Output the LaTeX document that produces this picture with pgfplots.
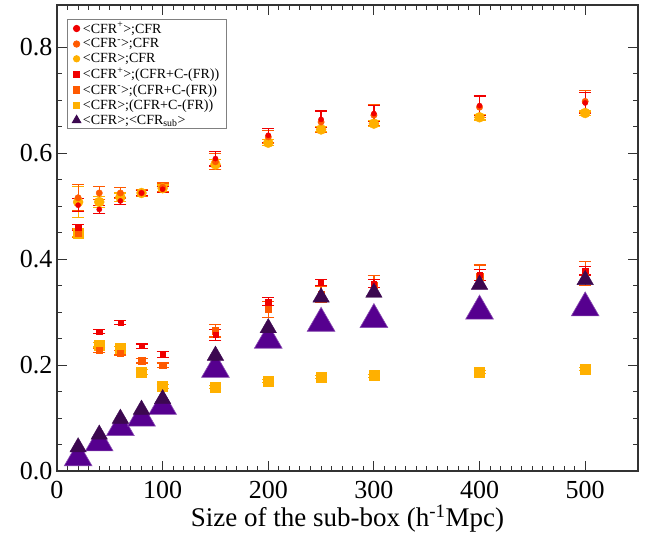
\documentclass[border=0pt]{standalone}
\usepackage{pgfplots}
\pgfplotsset{compat=1.18}
\usepackage{fontspec}
\setmainfont{Liberation Serif}
\definecolor{cred}{HTML}{F00000}
\definecolor{corg}{HTML}{FF5A00}
\definecolor{cyel}{HTML}{FFB000}
\definecolor{cpur}{HTML}{56008F}
\definecolor{cdark}{HTML}{3C0850}
\definecolor{axc}{HTML}{333333}
\pgfplotsset{eb/.style={error bars/y dir=both, error bars/y explicit,
  error bars/error bar style={line width=1.2pt, draw=#1},
  error bars/error mark options={rotate=90, mark size=6pt, line width=1.2pt, draw=#1, fill=#1}}}

\pgfplotstableread{
x y e
20 0.502 0.012
40 0.494 0.008
60 0.510 0.006
80 0.525 0.005
100 0.532 0.006
150 0.590 0.014
200 0.634 0.013
250 0.664 0.016
300 0.675 0.015
400 0.690 0.018
500 0.695 0.020
}\redcirc
\pgfplotstableread{
x y e
20 0.516 0.025
40 0.525 0.012
60 0.525 0.010
80 0.525 0.006
100 0.536 0.008
150 0.584 0.015
200 0.631 0.012
250 0.659 0.020
300 0.672 0.020
400 0.687 0.020
500 0.698 0.021
}\orgcirc
\pgfplotstableread{
x y e
20 0.508 0.030
40 0.508 0.010
60 0.517 0.008
80 0.525 0.005
100 0.534 0.006
150 0.579 0.010
200 0.620 0.006
250 0.645 0.005
300 0.656 0.005
400 0.668 0.005
500 0.676 0.004
}\yelcirc
\pgfplotstableread{
x y e
20 0.460 0.006
40 0.263 0.004
60 0.280 0.004
80 0.236 0.004
100 0.220 0.005
150 0.257 0.010
200 0.320 0.008
250 0.356 0.006
300 0.354 0.008
400 0.370 0.010
500 0.378 0.008
}\redsq
\pgfplotstableread{
x y e
20 0.449 0.008
40 0.228 0.004
60 0.223 0.004
80 0.208 0.004
100 0.200 0.004
150 0.265 0.012
200 0.305 0.015
250 0.333 0.015
300 0.351 0.018
400 0.367 0.022
500 0.373 0.022
}\orgsq
\pgfplotstableread{
x y e
20 0.449 0.006
40 0.238 0.004
60 0.231 0.004
80 0.187 0.004
100 0.160 0.004
150 0.159 0.003
200 0.170 0.003
250 0.178 0.003
300 0.180 0.003
400 0.187 0.003
500 0.193 0.003
}\yelsq
\pgfplotstableread{
x y
20 0.025
40 0.053
60 0.082
80 0.100
100 0.122
150 0.192
200 0.247
250 0.279
300 0.286
400 0.302
500 0.308
}\bigtri
\pgfplotstableread{
x y
20 0.045
40 0.069
60 0.099
80 0.116
100 0.136
150 0.218
200 0.270
250 0.328
300 0.337
400 0.352
500 0.361
}\darktri

\begin{document}
\begin{tikzpicture}
\path[use as bounding box] (-57pt,-71pt) rectangle (598pt,471pt);
\begin{axis}[
  scale only axis, width=581pt, height=466pt,
  xmin=0, xmax=550, ymin=0, ymax=0.88,
  clip=false,
  xtick={0,100,200,300,400,500},
  minor x tick num=9,
  ytick={0,0.2,0.4,0.6,0.8},
  minor y tick num=3,
  tick align=inside,
  major tick length=10pt, minor tick length=5pt,
  tick style={line width=1pt, color=axc},
  axis line style={line width=1.3pt, color=axc},
  /pgf/number format/assume math mode=true,
  tick label style={font=\fontsize{26}{26}\selectfont},
  xticklabel style={yshift=-7pt},
  yticklabel style={xshift=-1pt, /pgf/number format/fixed, /pgf/number format/precision=1, /pgf/number format/fixed zerofill},
  xlabel={Size of the sub-box (h\textsuperscript{-1}Mpc)},
  xlabel style={yshift=1pt},
  label style={font=\fontsize{27}{27}\selectfont},
  legend cell align=left,
  legend style={at={(rel axis cs:0.017,0.97)}, anchor=north west, draw=gray, line width=0.8pt,
    font=\fontsize{14}{14}\selectfont, inner xsep=5pt, inner ysep=1pt, row sep=0pt},
]
\addlegendimage{only marks, mark=*, mark size=3.2pt, cred}
\addlegendentry{<CFR\textsuperscript{+}>;CFR}
\addlegendimage{only marks, mark=*, mark size=3.2pt, corg}
\addlegendentry{<CFR\textsuperscript{-}>;CFR}
\addlegendimage{only marks, mark=*, mark size=3.2pt, cyel}
\addlegendentry{<CFR>;CFR}
\addlegendimage{only marks, mark=square*, mark size=3.2pt, cred}
\addlegendentry{<CFR\textsuperscript{+}>;(CFR+C-(FR))}
\addlegendimage{only marks, mark=square*, mark size=3.2pt, corg}
\addlegendentry{<CFR\textsuperscript{-}>;(CFR+C-(FR))}
\addlegendimage{only marks, mark=square*, mark size=3.2pt, cyel}
\addlegendentry{<CFR>;(CFR+C-(FR))}
\addlegendimage{only marks, mark=triangle*, mark size=5pt, cdark}
\addlegendentry{<CFR>;<CFR\textsubscript{sub}>}

\addplot[forget plot, only marks, mark=*, mark size=5pt, cyel, eb=cyel] table[x=x,y=y,y error=e]{\yelcirc};
\addplot[forget plot, only marks, mark=*, mark size=3.2pt, corg, eb=corg] table[x=x,y=y,y error=e]{\orgcirc};
\addplot[forget plot, only marks, mark=*, mark size=2.6pt, cred, eb=cred] table[x=x,y=y,y error=e]{\redcirc};

\addplot[forget plot, only marks, mark=square*, mark size=5pt, cyel, eb=cyel] table[x=x,y=y,y error=e]{\yelsq};
\addplot[forget plot, only marks, mark=square*, mark size=3.2pt, corg, eb=corg] table[x=x,y=y,y error=e]{\orgsq};
\addplot[forget plot, only marks, mark=square*, mark size=2.6pt, cred, eb=cred] table[x=x,y=y,y error=e]{\redsq};

\addplot[forget plot, only marks, mark=triangle*, mark size=16pt, color=cpur, mark options={draw=cpur!70!white, line width=0.6pt, fill=cpur}] table[x=x,y=y]{\bigtri};
\addplot[forget plot, only marks, mark=triangle*, mark size=9.5pt, color=cdark, mark options={draw=cdark, fill=cdark}] table[x=x,y=y]{\darktri};
\end{axis}
\end{tikzpicture}
\end{document}
